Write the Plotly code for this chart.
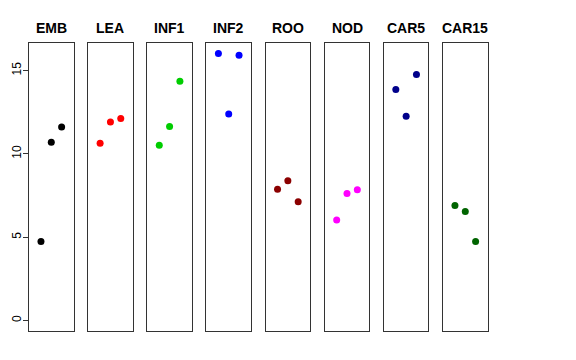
import plotly.graph_objects as go

tissues = ["EMB", "LEA", "INF1", "INF2", "ROO", "NOD", "CAR5", "CAR15"]
colors = ["#000000", "#FF0000", "#00CD00", "#0000FF", "#8B0000", "#FF00FF", "#00008B", "#006400"]
replicates = [1, 2, 3]
values = [
    [4.74, 10.70, 11.62],
    [10.64, 11.92, 12.12],
    [10.52, 11.64, 14.36],
    [16.02, 12.40, 15.92],
    [7.88, 8.38, 7.12],
    [6.02, 7.62, 7.84],
    [13.86, 12.26, 14.76],
    [6.90, 6.54, 4.74],
]
y_ticks = [0, 5, 10, 15]

W, H = 576, 360
OFF = 8.0  # page body margin offset
fig = go.Figure()
start0, step, pw = 29.0 - OFF, 59.14, 44.6
top_px, bot_px = 43.3 - OFF, 331.0 - OFF
y_dom = [(H - bot_px) / H, (H - top_px) / H]
annotations = []
for i, (name, col, vals) in enumerate(zip(tissues, colors, values)):
    k = "" if i == 0 else str(i + 1)
    x0 = start0 + step * i
    fig.add_trace(go.Scatter(
        x=replicates, y=vals, mode="markers",
        marker=dict(color=col, size=7, line=dict(width=0)),
        xaxis="x" + k, yaxis="y" + k, showlegend=False,
        hoverinfo="y"))
    fig.layout["xaxis" + k] = dict(
        domain=[x0 / W, (x0 + pw) / W], range=[-0.16, 4.16],
        showline=True, mirror=True, linecolor="#333", linewidth=1,
        showgrid=False, zeroline=False, showticklabels=False, ticks="",
        anchor="y" + k)
    ydict = dict(
        domain=y_dom, range=[-0.64, 16.64],
        showline=True, mirror=True, linecolor="#333", linewidth=1,
        showgrid=False, zeroline=False, anchor="x" + k)
    if i == 0:
        ydict.update(tickvals=y_ticks, ticktext=[str(t) for t in y_ticks],
                     ticks="outside", ticklen=5, tickcolor="#333",
                     tickangle=-90, tickfont=dict(size=12, color="#000"),
                     ticklabelstandoff=-3)
    else:
        ydict.update(showticklabels=False, ticks="")
    fig.layout["yaxis" + k] = ydict
    annotations.append(dict(
        text="<b>" + name + "</b>", x=(x0 + pw / 2) / W, y=(H - (28 - OFF)) / H,
        xref="paper", yref="paper", showarrow=False,
        xanchor="center", yanchor="middle",
        font=dict(size=14, color="#000", family="Liberation Sans, Arial, sans-serif")))

fig.update_layout(
    width=W, height=H, margin=dict(l=0, r=0, t=0, b=0),
    paper_bgcolor="white", plot_bgcolor="white",
    font=dict(family="Liberation Sans, Arial, sans-serif"),
    annotations=annotations)

fig.write_html("out.html")
